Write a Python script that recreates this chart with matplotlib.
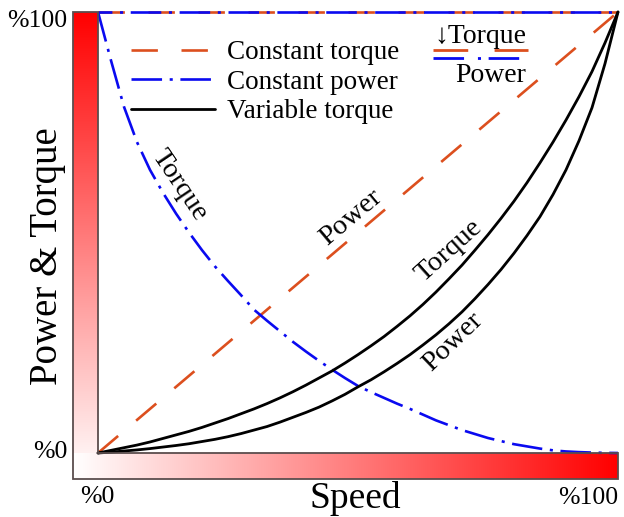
import numpy as np
import matplotlib
matplotlib.use("Agg")
import matplotlib.pyplot as plt
from matplotlib.colors import LinearSegmentedColormap
from matplotlib.lines import Line2D
from matplotlib.patches import Polygon

plt.rcParams['font.family'] = ['Liberation Serif', 'DejaVu Serif']
plt.rcParams['lines.scale_dashes'] = False

# ---------------- data (percent) ----------------
speed = [0, 2.5, 5, 7.5, 10, 12.5, 15, 17.5, 20, 22.5, 25, 27.5, 30, 32.5, 35, 37.5,
         40, 42.5, 45, 47.5, 50, 52.5, 55, 57.5, 60, 62.5, 65, 67.5, 70, 72.5, 75,
         77.5, 80, 82.5, 85, 87.5, 90, 92.5, 95, 97.5, 100]
speed_ends = [0, 100]

ct_torque = [100, 100]          # constant torque: torque
ct_power = [0, 100]             # constant torque: power
cp_power = [100, 100]           # constant power: power
cp_torque = [100, 89, 78.5, 70.5, 64.2, 59, 54.3, 50, 46, 42.3, 39, 35.8, 32.5, 30,
             27.6, 25.2, 23, 20.9, 18.9, 17, 15.2, 13.8, 12.5, 11.2, 10, 8.7, 7.4,
             6.3, 5.2, 4.3, 3.4, 2.7, 2.0, 1.5, 1.0, 0.6, 0.35, 0.2, 0.1, 0.03, 0]
vt_torque = [0, 0.6, 1.2, 1.8, 2.5, 3.3, 4.1, 4.9, 5.8, 6.8, 7.8, 8.9, 10, 11.2, 12.5,
             13.9, 15.4, 17, 18.6, 20.4, 22.3, 24.3, 26.4, 28.7, 31.1, 33.7, 36.5,
             39.5, 42.6, 46, 49.5, 53.2, 57.1, 61.3, 65.8, 70.5, 75.5, 80.8, 86.5,
             93, 100]
vt_power = [0, 0.2, 0.45, 0.7, 1.0, 1.35, 1.7, 2.1, 2.6, 3.1, 3.7, 4.4, 5.2, 6.0, 7.0,
            8.1, 9.2, 10.4, 11.8, 13.3, 15.0, 16.6, 18.4, 20.3, 22.3, 24.5, 26.8,
            29.3, 32.0, 35.0, 38.2, 41.6, 45.3, 49.3, 53.6, 58.6, 64.2, 70.8, 78.3,
            88.3, 100]

xtick_labels = ['%0', '%100']
ytick_labels = ['%0', '%100']
legend_labels = ['Constant torque', 'Constant power', 'Variable torque']

ORANGE = '#dc4f1e'
BLUE = '#0a0af0'

W, H = 624, 517
def fx(px):
    return px / W
def fy(py):
    return 1 - py / H

fig = plt.figure(figsize=(W / 100, H / 100), dpi=100)

# ---------------- gradient bars ----------------
cmap = LinearSegmentedColormap.from_list('wr', ['#ffffff', '#ff0000'])
axL = fig.add_axes([fx(73), fy(479), 25 / W, 467 / H])
axL.imshow(np.linspace(0, 1, 256).reshape(-1, 1), cmap=cmap, origin='lower',
           aspect='auto', extent=[0, 1, 0, 1])
axL.axis('off')
axB = fig.add_axes([fx(73), fy(479), 545 / W, 26 / H])
axB.imshow(np.linspace(0, 1, 256).reshape(1, -1), cmap=cmap, origin='lower',
           aspect='auto', extent=[0, 1, 0, 1])
axB.axis('off')
outline = [(73, 12), (98, 12), (98, 453), (618, 453), (618, 479), (73, 479)]
fig.add_artist(Polygon([(fx(a), fy(b)) for a, b in outline], closed=True, fill=False,
                       edgecolor='#5a4d4d', lw=1.3, transform=fig.transFigure, zorder=5))

# ---------------- main axes ----------------
ax = fig.add_axes([fx(98), fy(453), 520 / W, 441 / H])
ax.set_xlim(0, 100)
ax.set_ylim(0, 100)
ax.axis('off')

lw = 1.9
dash_o = (0, (19, 17))
dash_b = (0, (22, 5.5, 2.2, 5.5))

l_ct, = ax.plot(speed_ends, ct_power, color=ORANGE, lw=lw, ls=dash_o, clip_on=False)
ax.plot(speed_ends, ct_torque, color=ORANGE, lw=lw, ls=dash_o, clip_on=False)
l_cp, = ax.plot(speed, cp_torque, color=BLUE, lw=lw, ls=dash_b, clip_on=False)
ax.plot(speed_ends, cp_power, color=BLUE, lw=lw, ls=(12, (22, 5.5, 2.2, 5.5)), clip_on=False)
l_vt, = ax.plot(speed, vt_torque, color='black', lw=2.0, clip_on=False,
                solid_capstyle='round', solid_joinstyle='round')
ax.plot(speed, vt_power, color='black', lw=2.0, clip_on=False, solid_capstyle='round',
        solid_joinstyle='round')

leg = ax.legend([l_ct, l_cp, l_vt], legend_labels, loc='upper left',
                bbox_to_anchor=(fx(131), fy(40)), bbox_transform=fig.transFigure,
                frameon=False, fontsize=19.5, handlelength=3.1, handletextpad=0.45,
                labelspacing=0.17, borderpad=0, borderaxespad=0)

# in-plot curve labels
lab_fs = 20.5
ax.text(15.6, 60.8, 'Torque', rotation=-56, color='black', fontsize=lab_fs,
        ha='center', va='center', rotation_mode='anchor')
ax.text(48.7, 53.5, 'Power', rotation=40, color='black', fontsize=lab_fs,
        ha='center', va='center', rotation_mode='anchor')
ax.text(67.5, 45.8, 'Torque', rotation=42, color='black', fontsize=lab_fs,
        ha='center', va='center', rotation_mode='anchor')
ax.text(68.3, 25.2, 'Power', rotation=44, color='black', fontsize=lab_fs,
        ha='center', va='center', rotation_mode='anchor')

# top-right key
fig.text(fx(434), fy(43), '\u2193Torque', fontsize=20, ha='left', va='baseline',
         family=['Liberation Serif', 'DejaVu Serif', 'DejaVu Sans'])
fig.add_artist(Line2D([fx(433), fx(528)], [fy(50), fy(50)], color=ORANGE, lw=2.0,
                      ls=(0, (25, 19)), transform=fig.transFigure))
fig.add_artist(Line2D([fx(433), fx(528)], [fy(57.5), fy(57.5)], color=BLUE, lw=2.0,
                      ls=(0, (22, 10, 2.2, 5.5)), transform=fig.transFigure))
fig.text(fx(455), fy(82), 'Power', fontsize=20, ha='left', va='baseline')

# tick labels
tick_fs = 18.5
fig.text(fx(67), fy(27), ytick_labels[1], fontsize=tick_fs, ha='right', va='baseline')
fig.text(fx(67), fy(458), ytick_labels[0], fontsize=tick_fs, ha='right', va='baseline')
fig.text(fx(97.5), fy(503), xtick_labels[0], fontsize=tick_fs, ha='center', va='baseline')
fig.text(fx(618), fy(504), xtick_labels[1], fontsize=tick_fs, ha='right', va='baseline')

# axis labels
fig.text(fx(355), fy(508), 'Speed', fontsize=27, ha='center', va='baseline')
fig.text(fx(48), fy(256), 'Power & Torque', fontsize=28, rotation=90,
         ha='center', va='center')

fig.savefig('out.png', dpi=100)
